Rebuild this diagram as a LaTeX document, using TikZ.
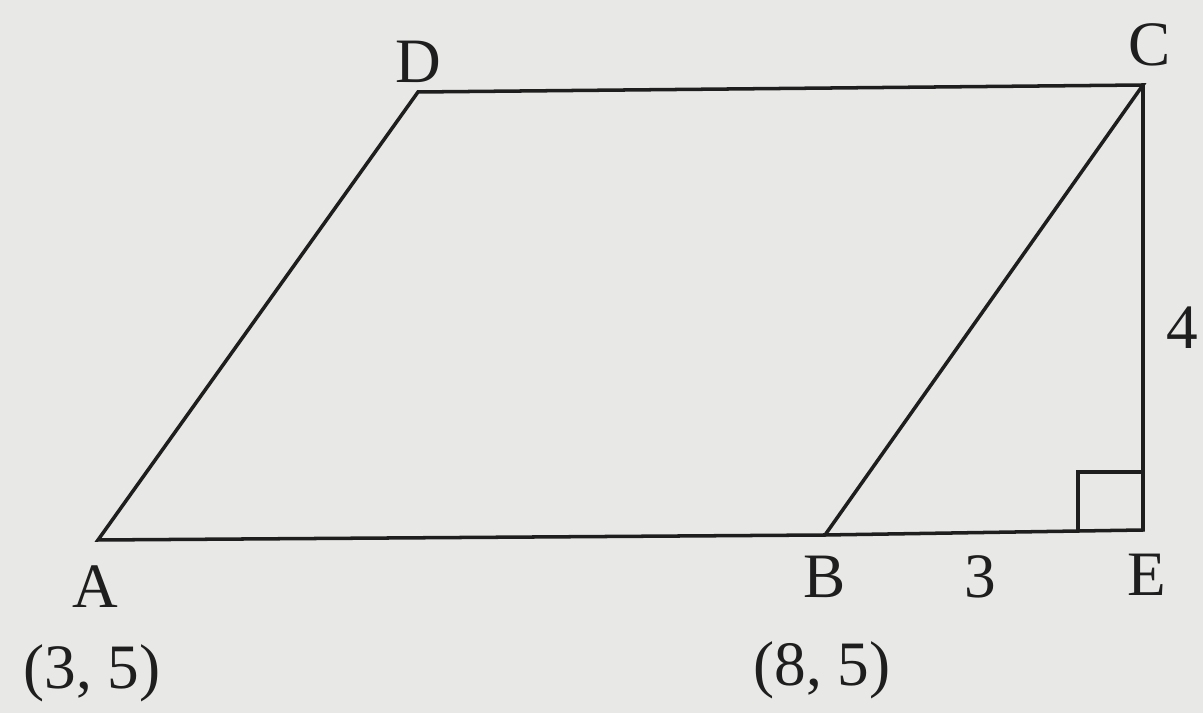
\documentclass[tikz,border=0pt]{standalone}
\usepackage{fontspec}
\setmainfont{Liberation Serif}
\usepackage{tikz}
\usetikzlibrary{positioning}
\definecolor{paper}{RGB}{232,232,230}
\definecolor{ink}{RGB}{30,30,30}

\begin{document}
\begin{tikzpicture}[
    every node/.style={font=\fontsize{18}{21}\selectfont, text=ink, inner sep=1pt},
    edge/.style={draw=ink, line width=1pt},
    ptlabel/.style={anchor=center},
    rightmark/.style={draw=ink, line width=0.9pt}
]
\fill[paper] (0,0) rectangle (12.03,7.13);
\useasboundingbox (0,0) rectangle (12.03,7.13);

\coordinate (A) at (0.98,1.73);
\coordinate (B) at (8.25,1.78);
\coordinate (E) at (11.43,1.83);
\coordinate (C) at (11.43,6.28);
\coordinate (D) at (4.18,6.21);

% parallelogram and height
\draw[edge] (A) -- (B) -- (C) -- (D) -- cycle;
\draw[edge] (B) -- (E) -- (C);
\draw[rightmark] ([xshift=-0.65cm]E) -- ++(0,0.58) -- ++(0.65,0);

\node[ptlabel] (lA) at (0.95,1.26) {A};
\node[ptlabel] (cA) at (0.92,0.40) {(3, 5)};
\node[ptlabel] (lB) at (8.25,1.36) {B};
\node[ptlabel] (cB) at (8.22,0.43) {(8, 5)};
\node[ptlabel] (lE) at (11.47,1.38) {E};
\node[ptlabel] (lC) at (11.50,6.68) {C};
\node[ptlabel] (lD) at (4.18,6.51) {D};
\node[ptlabel] (bE) at (9.80,1.36) {3};
\node[ptlabel] (hC) at (11.82,3.85) {4};
\end{tikzpicture}
\end{document}
